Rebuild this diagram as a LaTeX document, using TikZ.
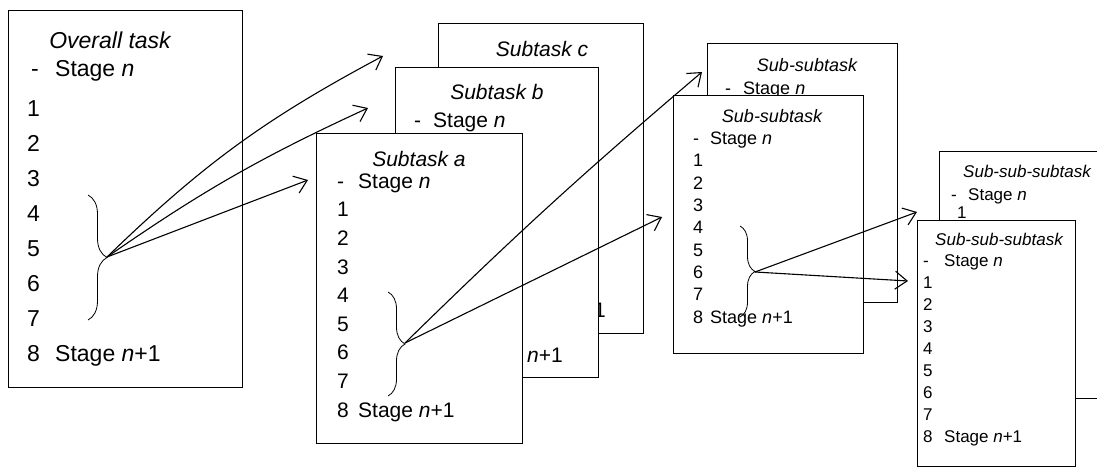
\documentclass[tikz,border=0pt]{standalone}
\usepackage{fontspec}
\setmainfont{Liberation Sans}
\usetikzlibrary{arrows.meta,decorations.pathreplacing}

% text sizes for the four levels
\newcommand{\szTask}{\fontsize{23}{35}\selectfont}
\newcommand{\szSub}{\fontsize{21}{28.6}\selectfont}
\newcommand{\szSubSub}{\fontsize{18}{22.3}\selectfont}
\newcommand{\szSubSubSub}{\fontsize{17}{22}\selectfont}
\newcommand{\firstcol}[2]{\makebox[#1][l]{#2}}

\begin{document}
\begin{tikzpicture}[
    x=1pt, y=-1pt,
    card/.style={draw, line width=1.4pt, fill=white, anchor=north west, inner sep=0pt},
    heading/.style={font=#1\itshape, anchor=base, inner sep=0pt},
    items/.style={font=#1, align=left, anchor=base west, inner sep=0pt},
    curly/.style={decorate, decoration={brace, mirror, amplitude=#1}, line width=0.8pt},
    link/.style={-{Straight Barb[length=12pt, width=18pt]}, line width=1.1pt}
]
\useasboundingbox (0,0) rectangle (1097,468);
\clip (0,0) rectangle (1097,468);

% overall task (lists are placed by the baseline of their last line)
\node[card, minimum width=234pt, minimum height=377pt] (task) at (8,10) {};
\node[heading=\szTask] (tasktitle) at (110,49) {Overall task};
\node[items=\szTask] (tasklist) at (27,361) {\firstcol{28pt}{\,-}Stage \textit{n}\\[5pt]1\\2\\3\\4\\5\\6\\7\\\firstcol{28pt}{8}Stage \textit{n}+1};
\draw[curly=19pt] (88,320) -- (88,195);
\coordinate (taskfork) at (107,257);

% subtasks c, b, a
\node[card, minimum width=205pt, minimum height=310pt] (subc) at (438,23) {};
\node[heading=\szSub] (subctitle) at (542,57) {Subtask c};
\node[items=\szSub, anchor=base east] (subcend) at (606,317) {\firstcol{21pt}{8}Stage \textit{n}+1};

\node[card, minimum width=203pt, minimum height=310pt] (subb) at (395,67) {};
\node[heading=\szSub] (subbtitle) at (497,100) {Subtask b};
\node[items=\szSub] (subbstage) at (414,128) {\firstcol{19pt}{-}Stage \textit{n}};
\node[items=\szSub, anchor=base east] (subbend) at (563,362) {\firstcol{21pt}{8}Stage \textit{n}+1};

\node[card, minimum width=206pt, minimum height=310pt] (suba) at (316,133) {};
\node[heading=\szSub] (subatitle) at (419,166) {Subtask a};
\node[items=\szSub] (subalist) at (337,417) {\firstcol{21pt}{-}Stage \textit{n}\\1\\2\\3\\4\\5\\6\\7\\\firstcol{21pt}{8}Stage \textit{n}+1};
\draw[curly=17pt] (388,396) -- (388,292);
\coordinate (subafork) at (405,343);

% sub-subtasks
\node[card, minimum width=190pt, minimum height=259pt] (ssback) at (707,43) {};
\node[heading=\szSubSub] (ssbacktitle) at (807,72) {Sub-subtask};
\node[items=\szSubSub] (ssbackstage) at (725,95) {\firstcol{18pt}{-}Stage \textit{n}};

\node[card, minimum width=190pt, minimum height=258pt] (ssfront) at (673,95) {};
\node[heading=\szSubSub] (ssfronttitle) at (772,123) {Sub-subtask};
\node[items=\szSubSub] (ssfrontlist) at (693,323) {\firstcol{17pt}{-}Stage \textit{n}\\1\\2\\3\\4\\5\\6\\7\\\firstcol{17pt}{8}Stage \textit{n}+1};
\draw[curly=15pt] (740,317) -- (740,226);
\coordinate (ssfork) at (755,272);

% sub-sub-subtasks
\node[card, minimum width=175pt, minimum height=247pt] (sssback) at (939,151) {};
\node[heading=\szSubSubSub] (sssbacktitle) at (1027,177) {Sub-sub-subtask};
\node[items=\szSubSubSub] (sssbackstage) at (951,200) {\firstcol{17pt}{-}Stage \textit{n}};
\node[items=\szSubSubSub] (sssbackone) at (957,218) {1};

\node[card, minimum width=158pt, minimum height=246pt] (sssfront) at (917,220) {};
\node[heading=\szSubSubSub] (sssfronttitle) at (999,245) {Sub-sub-subtask};
\node[items=\szSubSubSub] (sssfrontlist) at (923,442) {\firstcol{21pt}{-}Stage \textit{n}\\1\\2\\3\\4\\5\\6\\7\\\firstcol{21pt}{8}Stage \textit{n}+1};

% arrow ends
\coordinate (toc) at (383,56);
\coordinate (tob) at (368,108);
\coordinate (toa) at (308,180);
\coordinate (tossback) at (702,72);
\coordinate (tossfront) at (662,217);
\coordinate (tosssback) at (917,212);
\coordinate (tosssfront) at (908,281);

\draw[link] (taskfork) to[bend left=8] (toc);
\draw[link] (taskfork) to[bend left=5] (tob);
\draw[link] (taskfork) -- (toa);
\draw[link] (subafork) to[bend left=2] (tossback);
\draw[link] (subafork) -- (tossfront);
\draw[link] (ssfork) -- (tosssback);
\draw[link] (ssfork) -- (tosssfront);
\end{tikzpicture}
\end{document}
